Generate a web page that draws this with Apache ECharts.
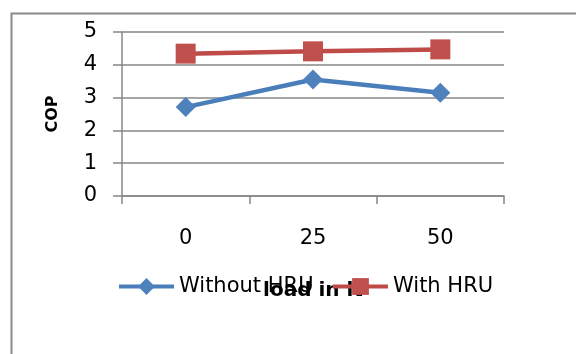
<!DOCTYPE html>
<html>
<head>
<meta charset="utf-8">
<script src="https://cdn.jsdelivr.net/npm/echarts@6/dist/echarts.min.js"></script>
<style>html,body{margin:0;padding:0;background:#fff;}#c{width:576px;height:354px;}</style>
</head>
<body>
<div id="c"></div>
<script>
var categories = ['0', '25', '50'];
var withoutHRU = [2.71, 3.55, 3.15];
var withHRU = [4.34, 4.41, 4.47];
var yTicks = [0, 1, 2, 3, 4, 5];
var seriesNames = ['Without HRU', 'With HRU'];
var xTitle = 'load in lt';
var yTitle = 'COP';

var FONT = 'DejaVu Sans';
var chart = echarts.init(document.getElementById('c'), null, {renderer: 'canvas'});
chart.setOption({
  animation: false,
  backgroundColor: '#fff',
  graphic: [{
    type: 'rect', left: 9, top: 11, shape: {width: 620, height: 400},
    style: {fill: 'none', stroke: '#8a8a8a', lineWidth: 2}, z: -1
  }],
  grid: {left: 122, right: 72, top: 32, bottom: 158},
  legend: [{
    data: [seriesNames[0]], left: 117, top: 276, padding: 0,
    itemWidth: 55, itemHeight: 21, itemGap: 5,
    lineStyle: {width: 4},
    textStyle: {fontFamily: FONT, fontSize: 21, color: '#000'}
  }, {
    data: [seriesNames[1]], left: 331, top: 276, padding: 0,
    itemWidth: 55, itemHeight: 21, itemGap: 5,
    lineStyle: {width: 4},
    textStyle: {fontFamily: FONT, fontSize: 21, color: '#000'}
  }],
  xAxis: {
    type: 'category', data: categories, boundaryGap: true,
    name: xTitle, nameLocation: 'middle', nameGap: 85,
    nameTextStyle: {fontFamily: FONT, fontSize: 20, fontWeight: 'bold', color: '#000'},
    axisLine: {lineStyle: {color: '#878787', width: 1.5}},
    axisTick: {show: true, length: 8, alignWithLabel: false, lineStyle: {color: '#878787', width: 1.5}},
    axisLabel: {fontFamily: FONT, fontSize: 21, color: '#000', margin: 32},
    splitLine: {show: false}
  },
  yAxis: {
    type: 'value', min: yTicks[0], max: yTicks[yTicks.length - 1], interval: 1,
    name: yTitle, nameLocation: 'middle', nameGap: 61, nameRotate: 90,
    nameTextStyle: {fontFamily: FONT, fontSize: 16, fontWeight: 'bold', color: '#000'},
    axisLine: {show: true, lineStyle: {color: '#878787', width: 1.5}},
    axisTick: {show: true, length: 9, lineStyle: {color: '#878787', width: 1.5}},
    axisLabel: {fontFamily: FONT, fontSize: 21, color: '#000', margin: 25},
    splitLine: {lineStyle: {color: '#878787', width: 1.5}}
  },
  series: [{
    name: seriesNames[0], type: 'line', data: withoutHRU,
    symbol: 'diamond', symbolSize: 20,
    lineStyle: {color: '#4A7EBB', width: 4.5},
    itemStyle: {color: '#4F81BD'}
  }, {
    name: seriesNames[1], type: 'line', data: withHRU,
    symbol: 'rect', symbolSize: 20,
    lineStyle: {color: '#BE4B48', width: 4.5},
    itemStyle: {color: '#C0504D'}
  }]
});
</script>
</body>
</html>
